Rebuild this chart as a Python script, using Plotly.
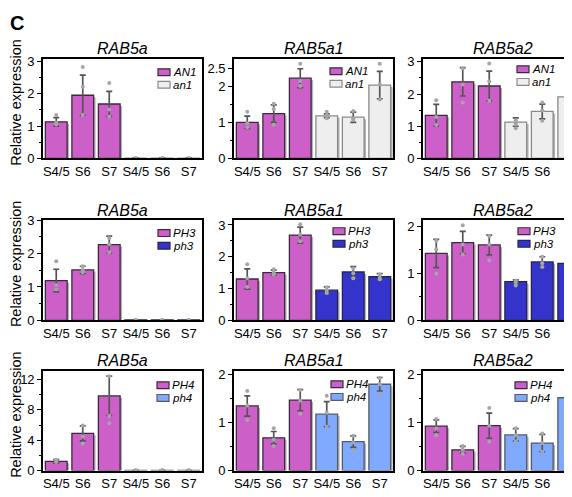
import plotly.graph_objects as go

# The page is shown with the browser's default 8px body margin, so the figure
# is sized to the window minus that margin; page pixels are mapped below.
PAGE_W, PAGE_H = 572, 497
OFF = 8
W, H = PAGE_W - OFF, PAGE_H - OFF

STAGES = ["S4/5", "S6", "S7"]
GENES = ["RAB5a", "RAB5a1", "RAB5a2"]
WT_NAMES = ["AN1", "PH3", "PH4"]
MUT_NAMES = ["an1", "ph3", "ph4"]

# ---- Row 1: AN1 / an1  (first 3 values = AN1 S4/5,S6,S7 ; last 3 = an1) ----
AN1_RAB5A_MEAN = [1.13, 1.95, 1.68, 0.01, 0.01, 0.01]
AN1_RAB5A_ERR = [0.13, 0.62, 0.39, 0.005, 0.005, 0.005]
AN1_RAB5A_REPS = [[1.34, 1.10, 1.05], [2.82, 2.21, 1.34], [2.33, 1.51, 1.29],
                  [0.01, 0.005, 0.0], [0.01, 0.005, 0.0], [0.01, 0.005, 0.0]]
AN1_RAB5A1_MEAN = [1.00, 1.24, 2.22, 1.18, 1.14, 2.03]
AN1_RAB5A1_ERR = [0.17, 0.24, 0.26, 0.05, 0.14, 0.38]
AN1_RAB5A1_REPS = [[1.29, 0.97, 0.86], [1.51, 1.37, 0.93], [2.62, 2.14, 2.00],
                   [1.29, 1.20, 1.11], [1.31, 1.11, 1.06], [2.62, 2.05, 1.63]]
AN1_RAB5A2_MEAN = [1.34, 2.38, 2.25, 1.13, 1.46, 1.91]
AN1_RAB5A2_ERR = [0.34, 0.44, 0.46, 0.13, 0.23, 0.20]
AN1_RAB5A2_REPS = [[1.81, 1.29, 1.04], [2.80, 2.30, 1.74], [2.95, 2.40, 1.79],
                   [1.19, 1.07, 0.94], [1.74, 1.49, 1.17], [2.07, 1.89, 1.51]]

# ---- Row 2: PH3 / ph3 ----
PH3_RAB5A_MEAN = [1.19, 1.51, 2.27, 0.01, 0.01, 0.01]
PH3_RAB5A_ERR = [0.34, 0.11, 0.25, 0.005, 0.005, 0.005]
PH3_RAB5A_REPS = [[1.77, 1.05, 0.93], [1.62, 1.51, 1.44], [2.47, 2.28, 2.04],
                  [0.01, 0.005, 0.0], [0.01, 0.005, 0.0], [0.01, 0.005, 0.0]]
PH3_RAB5A1_MEAN = [1.30, 1.50, 2.68, 0.95, 1.52, 1.37]
PH3_RAB5A1_ERR = [0.32, 0.08, 0.25, 0.10, 0.17, 0.10]
PH3_RAB5A1_REPS = [[1.76, 1.32, 1.05], [1.61, 1.50, 1.44], [3.02, 2.70, 2.49],
                   [1.04, 0.94, 0.86], [1.63, 1.48, 1.32], [1.44, 1.34, 1.29]]
PH3_RAB5A2_MEAN = [1.42, 1.65, 1.60, 0.82, 1.24, 1.21]
PH3_RAB5A2_ERR = [0.30, 0.24, 0.21, 0.04, 0.11, 0.27]
PH3_RAB5A2_REPS = [[1.69, 1.51, 0.99], [2.02, 1.61, 1.40], [1.79, 1.61, 1.27],
                   [0.84, 0.81, 0.74], [1.35, 1.21, 1.13], [1.66, 1.16, 0.97]]

# ---- Row 3: PH4 / ph4 ----
PH4_RAB5A_MEAN = [1.21, 4.90, 9.83, 0.02, 0.02, 0.02]
PH4_RAB5A_ERR = [0.23, 0.98, 2.60, 0.01, 0.01, 0.01]
PH4_RAB5A_REPS = [[1.38, 1.21, 1.13], [5.94, 4.48, 3.56], [12.43, 7.20, 6.23],
                  [0.03, 0.01, 0.0], [0.03, 0.01, 0.0], [0.03, 0.01, 0.0]]
PH4_RAB5A1_MEAN = [1.34, 0.68, 1.46, 1.17, 0.60, 1.79]
PH4_RAB5A1_ERR = [0.21, 0.13, 0.22, 0.26, 0.12, 0.14]
PH4_RAB5A1_REPS = [[1.65, 1.35, 1.05], [0.88, 0.64, 0.51], [1.67, 1.45, 1.18],
                   [1.55, 1.20, 0.91], [0.72, 0.58, 0.43], [1.92, 1.79, 1.58]]
PH4_RAB5A2_MEAN = [0.92, 0.43, 0.93, 0.74, 0.57, 1.51]
PH4_RAB5A2_ERR = [0.13, 0.07, 0.26, 0.13, 0.18, 0.33]
PH4_RAB5A2_REPS = [[1.07, 0.87, 0.73], [0.51, 0.43, 0.35], [1.30, 0.93, 0.60],
                   [0.88, 0.73, 0.61], [0.77, 0.57, 0.39], [1.92, 1.50, 1.03]]

PANELS = [
    (AN1_RAB5A_MEAN, AN1_RAB5A_ERR, AN1_RAB5A_REPS),
    (AN1_RAB5A1_MEAN, AN1_RAB5A1_ERR, AN1_RAB5A1_REPS),
    (AN1_RAB5A2_MEAN, AN1_RAB5A2_ERR, AN1_RAB5A2_REPS),
    (PH3_RAB5A_MEAN, PH3_RAB5A_ERR, PH3_RAB5A_REPS),
    (PH3_RAB5A1_MEAN, PH3_RAB5A1_ERR, PH3_RAB5A1_REPS),
    (PH3_RAB5A2_MEAN, PH3_RAB5A2_ERR, PH3_RAB5A2_REPS),
    (PH4_RAB5A_MEAN, PH4_RAB5A_ERR, PH4_RAB5A_REPS),
    (PH4_RAB5A1_MEAN, PH4_RAB5A1_ERR, PH4_RAB5A1_REPS),
    (PH4_RAB5A2_MEAN, PH4_RAB5A2_ERR, PH4_RAB5A2_REPS),
]

# y axis settings per panel: (range max, tick values, minor dtick)
Y_MAX = [3.08, 2.76, 3.1, 3.02, 3.17, 2.14, 13.15, 2.07, 2.07]
Y_TICKS = [[0, 1, 2, 3], [0, 1, 2, 2.5], [0, 1, 2, 3],
           [0, 1, 2, 3], [0, 1, 2, 3], [0, 1, 2],
           [0, 4, 8, 12], [0, 1, 2], [0, 1, 2]]
Y_MINOR = [0.5, 0.5, 0.5, 0.5, 0.5, 0.5, 2, 0.5, 0.5]

# ---- styling ----
WT_COLOR = "#CD5FC9"
WT_LINE = "#3c2a3c"
MUT_COLORS = ["#EEEEEE", "#3434CC", "#80AAFF"]
MUT_LINES = ["#8a8a8a", "#26264a", "#555a66"]
SHADOW = "#b4b4b4"
ERR_COLOR = "#555555"
DOT_COLOR = "#a6a6a6"
FONT = "Liberation Sans, Arial, sans-serif"

# layout in page pixels
COL_X = [(43, 202), (234, 393), (423, 582)]
ROW_Y = [(53, 156), (219, 323), (375, 478)]
TITLE_Y = [43, 210, 364]
LEG_POS = [(158, 67), (330, 66), (517, 64),
           (158, 233), (333, 231), (518, 231),
           (157, 390), (331, 389), (515, 390)]
LEG_STEP = 13

BAR_W = 0.82

fig = go.Figure()
layout = dict(
    width=W, height=H,
    margin=dict(l=0, r=0, t=0, b=0, pad=0),
    paper_bgcolor="white", plot_bgcolor="white",
    barmode="overlay", showlegend=False,
    font=dict(family=FONT, size=13, color="black"),
)
annotations = []
shapes = []


def px_x(p):
    return (p - OFF) / W


def px_y(p):
    return 1 - (p - OFF) / H


for k, (means, errs, reps) in enumerate(PANELS):
    r, c = divmod(k, 3)
    sfx = "" if k == 0 else str(k + 1)
    xa, ya = "x" + sfx, "y" + sfx
    x0, x1 = COL_X[c]
    y0, y1 = ROW_Y[r]
    vis_x1 = min(x1, PAGE_W)
    unit_px = (x1 - x0) / 6.0
    xr_max = -0.5 + (vis_x1 - x0) / unit_px
    plot_h = y1 - y0
    dy = 2.0 * Y_MAX[k] / plot_h
    dx = 2.0 / unit_px

    xs = list(range(6))
    colors = [WT_COLOR] * 3 + [MUT_COLORS[r]] * 3
    lines = [WT_LINE] * 3 + [MUT_LINES[r]] * 3

    # shadow
    fig.add_trace(go.Bar(
        x=xs, y=means, base=-dy, offset=-BAR_W / 2 + dx, width=BAR_W,
        marker=dict(color=SHADOW, line=dict(width=0)),
        xaxis=xa, yaxis=ya, hoverinfo="skip", showlegend=False,
    ))
    # bars with error bars
    fig.add_trace(go.Bar(
        x=xs, y=means, offset=-BAR_W / 2, width=BAR_W,
        marker=dict(color=colors, line=dict(color=lines, width=1.3)),
        error_y=dict(type="data", array=errs, visible=True,
                     color=ERR_COLOR, thickness=1.7, width=3),
        xaxis=xa, yaxis=ya, showlegend=False,
    ))
    # replicate dots
    dxs, dys = [], []
    for i, vals in enumerate(reps):
        for v in vals:
            dxs.append(i)
            dys.append(v)
    fig.add_trace(go.Scatter(
        x=dxs, y=dys, mode="markers",
        marker=dict(size=4, color=DOT_COLOR),
        xaxis=xa, yaxis=ya, showlegend=False, hoverinfo="skip",
    ))

    layout["xaxis" + sfx] = dict(
        domain=[px_x(x0), min(1.0, px_x(vis_x1))], range=[-0.5, xr_max],
        anchor=ya, tickmode="array", tickvals=xs, ticktext=STAGES * 2,
        showline=True, linecolor="black", linewidth=1.6, mirror=True,
        ticks="", showgrid=False, zeroline=False, fixedrange=True,
        tickfont=dict(size=13, family=FONT, color="black"),
    )
    layout["yaxis" + sfx] = dict(
        domain=[px_y(y1), px_y(y0)], range=[0, Y_MAX[k]],
        anchor=xa, tickmode="array", tickvals=Y_TICKS[k],
        ticktext=[("%g" % t) for t in Y_TICKS[k]],
        ticks="outside", ticklen=4, tickwidth=1, tickcolor="black",
        minor=dict(dtick=Y_MINOR[k], tick0=0, ticks="outside", ticklen=2,
                   tickcolor="black", tickwidth=1),
        showline=True, linecolor="black", linewidth=1.6,
        mirror=(c < 2), showgrid=False, zeroline=False, fixedrange=True,
        tickfont=dict(size=13, family=FONT, color="black"),
    )

    # panel title
    annotations.append(dict(
        x=px_x((x0 + x1) / 2), y=px_y(TITLE_Y[r]), xref="paper", yref="paper",
        text="<i>%s</i>" % GENES[c], showarrow=False,
        xanchor="center", yanchor="middle",
        font=dict(size=16, family=FONT, color="black"),
    ))

    # legend (swatches + labels)
    lx, ly = LEG_POS[k]
    for j, (name, fc, lc) in enumerate([
        (WT_NAMES[r], WT_COLOR, WT_LINE),
        (MUT_NAMES[r], MUT_COLORS[r], MUT_LINES[r]),
    ]):
        cy = ly + j * LEG_STEP
        shapes.append(dict(
            type="rect", xref="paper", yref="paper",
            x0=px_x(lx), x1=px_x(lx + 12), y0=px_y(cy + 3.5), y1=px_y(cy - 3.5),
            fillcolor=fc, line=dict(color=lc, width=1.2),
        ))
        annotations.append(dict(
            x=px_x(lx + 14), y=px_y(cy), xref="paper", yref="paper",
            text="<i>%s</i>" % name, showarrow=False,
            xanchor="left", yanchor="middle", borderpad=0,
            font=dict(size=11.5, family=FONT, color="black"),
        ))

# row y-axis titles
for r in range(3):
    y0, y1 = ROW_Y[r]
    annotations.append(dict(
        x=px_x(16), y=px_y((y0 + y1) / 2 - 6), xref="paper", yref="paper",
        text="Relative expression", textangle=-90, showarrow=False,
        xanchor="center", yanchor="middle",
        font=dict(size=14.5, family=FONT, color="black"),
    ))

# panel letter
annotations.append(dict(
    x=px_x(8), y=px_y(16), xref="paper", yref="paper",
    text="<b>C</b>", showarrow=False, xanchor="left", yanchor="middle",
    font=dict(size=20, family=FONT, color="black"),
))

layout["annotations"] = annotations
layout["shapes"] = shapes
fig.update_layout(**layout)
fig.write_html("out.html", config={"displayModeBar": False})
